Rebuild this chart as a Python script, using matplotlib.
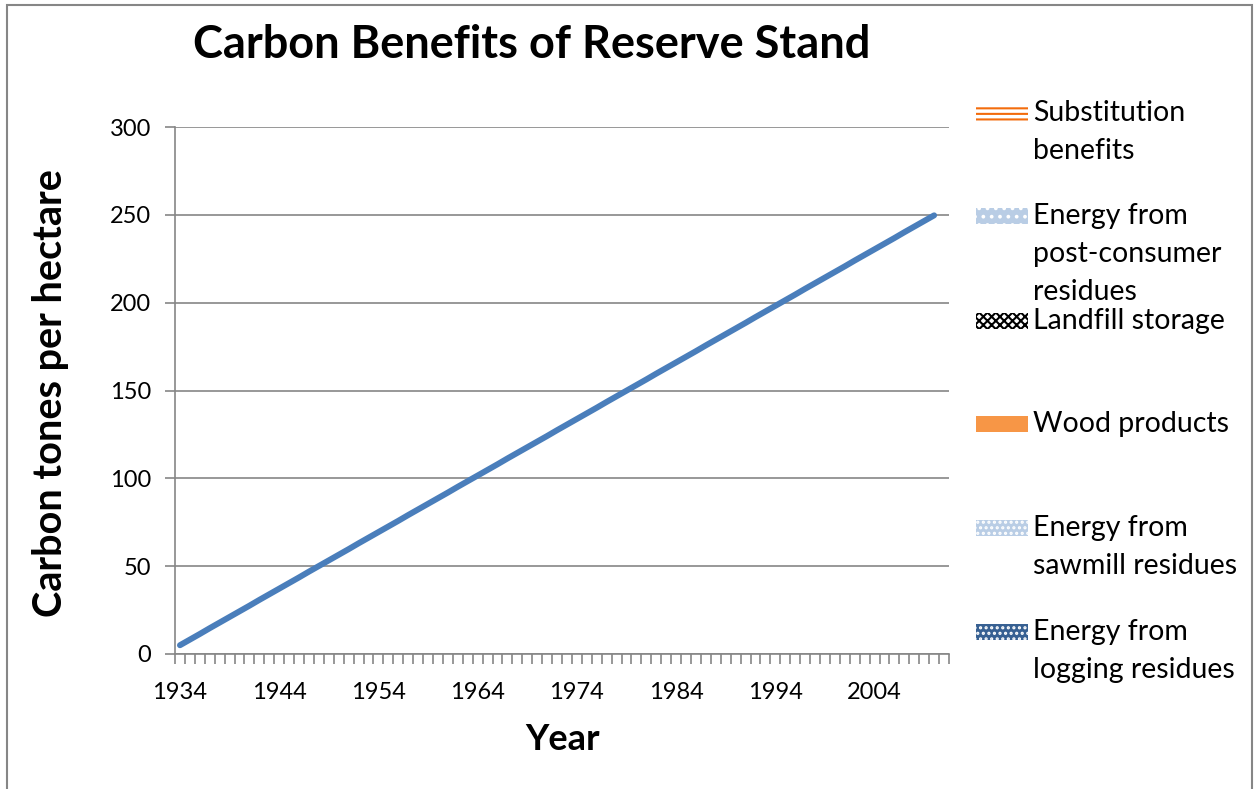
import matplotlib
matplotlib.use("Agg")
import matplotlib.pyplot as plt
from matplotlib.patches import Rectangle
import numpy as np

plt.rcParams['font.family'] = ['Lato', 'DejaVu Sans']
plt.rcParams['hatch.linewidth'] = 1.5

# Year categories on the axis; the stand series runs up to 2010
years = list(range(1934, 2012))
carbon = [
    5.0, 8.2, 11.4, 14.7, 17.9, 21.1, 24.3, 27.5, 30.8, 34.0,
    37.2, 40.4, 43.6, 46.9, 50.1, 53.3, 56.5, 59.7, 63.0, 66.2,
    69.4, 72.6, 75.8, 79.1, 82.3, 85.5, 88.7, 91.9, 95.2, 98.4,
    101.6, 104.8, 108.0, 111.3, 114.5, 117.7, 120.9, 124.1, 127.4, 130.6,
    133.8, 137.0, 140.2, 143.5, 146.7, 149.9, 153.1, 156.3, 159.6, 162.8,
    166.0, 169.2, 172.4, 175.7, 178.9, 182.1, 185.3, 188.5, 191.8, 195.0,
    198.2, 201.4, 204.6, 207.9, 211.1, 214.3, 217.5, 220.7, 224.0, 227.2,
    230.4, 233.6, 236.8, 240.1, 243.3, 246.5, 249.7,
]
y_ticks = [0, 50, 100, 150, 200, 250, 300]

legend_labels = [
    "Substitution\nbenefits",
    "Energy from\npost-consumer\nresidues",
    "Landfill storage",
    "Wood products",
    "Energy from\nsawmill residues",
    "Energy from\nlogging residues",
]
# (face colour, hatch colour, hatch)
legend_styles = [
    ("white", "#f36c0c", "---"),
    ("#b9cde5", "white", ".."),
    ("white", "black", "xxxx"),
    ("#f79646", "#f79646", None),
    ("#b9cde5", "white", "..."),
    ("#376092", "white", "..."),
]

W, H = 1255, 789
fig = plt.figure(figsize=(W / 100, H / 100), dpi=100)
ax = fig.add_axes([175 / W, 1 - 654 / H, (949 - 175) / W, (654 - 127) / H])

x = np.arange(len(years))
ax.plot(x[:len(carbon)], carbon, color="#4a7ebb", linewidth=4.3,
        solid_capstyle="round", zorder=3)

ax.set_xlim(-0.5, len(years) - 0.5)
ax.set_ylim(0, 300)
ax.set_yticks(y_ticks)
ax.set_yticklabels([str(v) for v in y_ticks], fontsize=17)
ax.yaxis.grid(True, color="#868686", linewidth=1.2)
ax.set_axisbelow(True)

ax.set_xticks(x[:71:10])
ax.set_xticklabels([str(y) for y in years[:71:10]], fontsize=17)
ax.set_xticks(np.arange(len(years) + 1) - 0.5, minor=True)
ax.tick_params(axis="x", which="major", length=0, pad=20)
ax.tick_params(axis="x", which="minor", length=7, width=1.2, color="#868686")
ax.tick_params(axis="y", length=7, width=1.2, color="#868686", pad=10)

for side in ("top", "right"):
    ax.spines[side].set_visible(False)
for side in ("left", "bottom"):
    ax.spines[side].set_color("#868686")
    ax.spines[side].set_linewidth(1.2)

fig.text(532 / W, 1 - 45 / H, "Carbon Benefits of Reserve Stand",
         fontsize=32.5, fontweight="bold", ha="center", va="center")
fig.text(51 / W, 1 - 393 / H, "Carbon tones per hectare",
         fontsize=28.5, fontweight="bold", rotation=90, ha="center", va="center")
fig.text(563 / W, 1 - 740 / H, "Year",
         fontsize=26, fontweight="bold", ha="center", va="center")

# legend, one swatch per stacked component
row_y = [113, 216, 321, 424, 528, 632]
for yc, label, (face, edge, hatch) in zip(row_y, legend_labels, legend_styles):
    sw = Rectangle((976 / W, 1 - (yc + 8) / H), 52 / W, 16 / H,
                   transform=fig.transFigure, facecolor=face, edgecolor=edge,
                   hatch=hatch, linewidth=0)
    fig.patches.append(sw)
    fig.text(1033 / W, 1 - (yc - 13) / H, label, fontsize=20.5,
             ha="left", va="top", linespacing=1.58)

# chart border
fig.patches.append(Rectangle((7 / W, -0.01), (1252 - 7) / W, 1 - 5 / H + 0.01,
                             transform=fig.transFigure, fill=False,
                             edgecolor="#868686", linewidth=1.5))

fig.savefig("out.png", dpi=100)
